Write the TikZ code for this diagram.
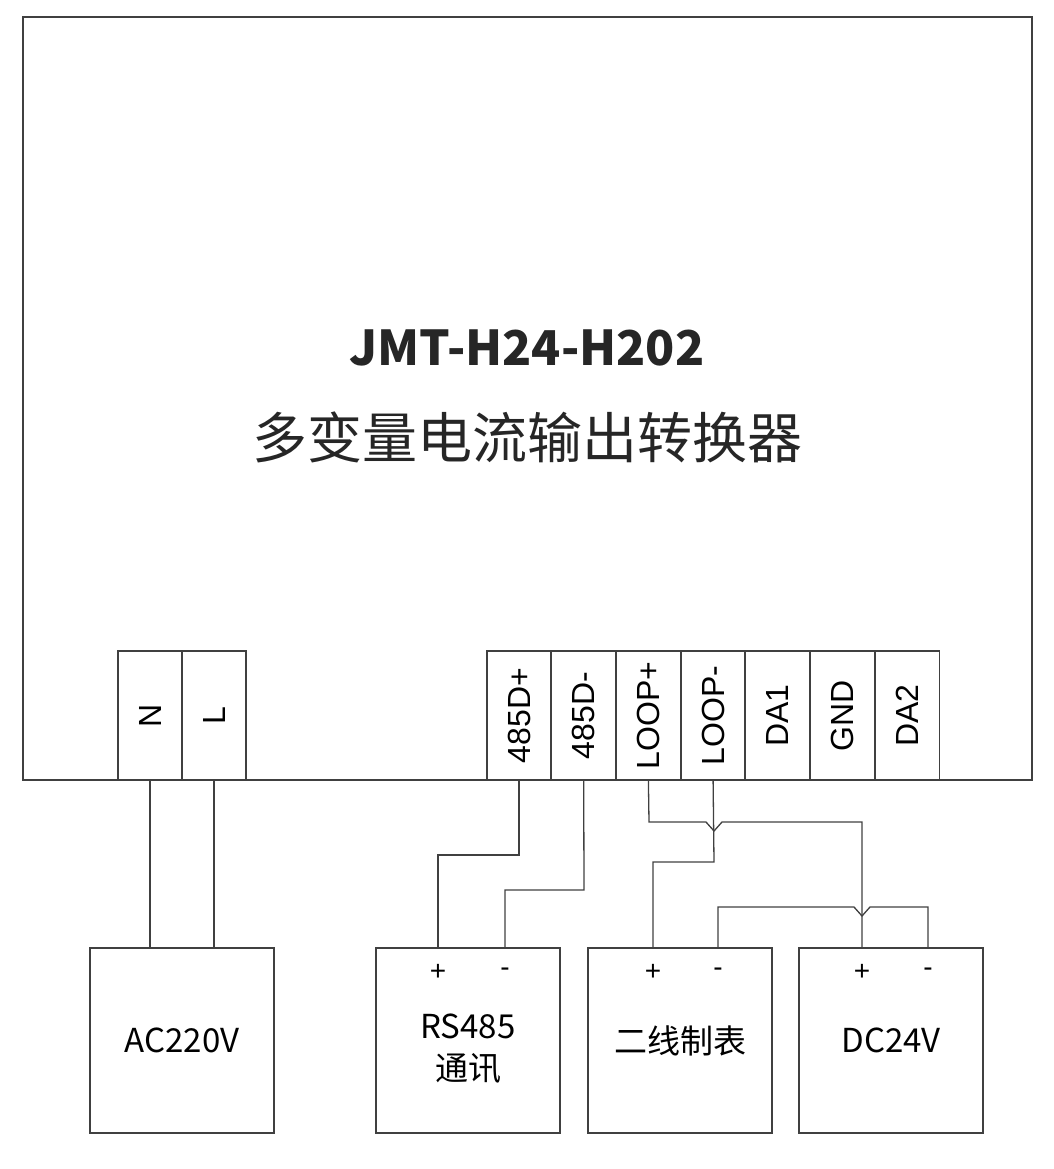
\documentclass[tikz,border=0pt]{standalone}
\usepackage{fontspec}
\setmainfont{Liberation Sans}
\newfontfamily\cjk{Noto Sans CJK SC}
\usetikzlibrary{positioning}
\tikzset{
  wire/.style={draw=black!75, line width=1.3pt},
  term/.style={draw=black!75, line width=1.3pt, minimum width=64pt, minimum height=129pt, inner sep=0pt},
  tlabel/.style={rotate=90, font=\fontsize{32}{32}\selectfont},
  dev/.style={draw=black!75, line width=1.3pt, minimum width=184pt, minimum height=185pt, inner sep=0pt, align=center, font=\fontsize{33}{42}\selectfont\cjk},
  pm/.style={font=\fontsize{28}{28}\selectfont}
}
\begin{document}
\begin{tikzpicture}[x=1pt,y=-1pt]
	\useasboundingbox (0,0) rectangle (1053,1169);
	% housing
	\draw[wire] (23,780) -- (23,17) -- (1032,17) -- (1032,780) -- cycle;
	\node[font=\fontsize{48}{48}\selectfont\bfseries\cjk, text=black!85] (model) at (527,348) {JMT-H24-H202};
	\node[font=\fontsize{55}{55}\selectfont\cjk, text=black!85] (name) at (527,437) {多变量电流输出转换器};
	% terminals
	\node[term, fill=white] (N) at (150,715.5) {};
	\node[term, fill=white] (L) at (214,715.5) {};
	\node[tlabel] at (N) {N};
	\node[tlabel] at (L) {L};
	\foreach \nm/\txt [count=\i from 0] in {dp/485D+, dm/485D-, lp/LOOP+, lm/LOOP-, da1/DA1, gnd/GND, da2/DA2} {
		\node[term, fill=white] (\nm) at (519+64.7*\i,715.5) {};
		\node[tlabel] at (\nm) {\txt};
	}
	% devices
	\node[dev] (ac) at (182,1040.5) {AC220V};
	\node[dev] (rs) at (468,1040.5) {\\RS485\\通讯};
	\node[dev] (meter) at (680,1040.5) {二线制表};
	\node[dev] (dc) at (891,1040.5) {DC24V};
	\node[pm] at (438,972) {+};
	\node[pm] at (505,972) {-};
	\node[pm] at (653,972) {+};
	\node[pm] at (718,972) {-};
	\node[pm] at (862,972) {+};
	\node[pm] at (928,972) {-};
	% wiring
	\draw[wire] (N.south) -- (N.south |- ac.north);
	\draw[wire] (L.south) -- (L.south |- ac.north);
	\draw[wire] (dp.south) -- (519,855) -- (438,855) -- (438,948);
	\draw[wire] (dm.south) -- (584,890) -- (505,890) -- (505,948);
	\draw[wire] (lp.south) -- (649,822) -- (706,822) -- (714,831) -- (722,822) -- (862,822) -- (862,948);
	\draw[wire] (lm.south) -- (714,862) -- (653,862) -- (653,948);
	\draw[wire] (718,948) -- (718,907) -- (854,907) -- (862,916) -- (870,907) -- (928,907) -- (928,948);
\end{tikzpicture}
\end{document}
